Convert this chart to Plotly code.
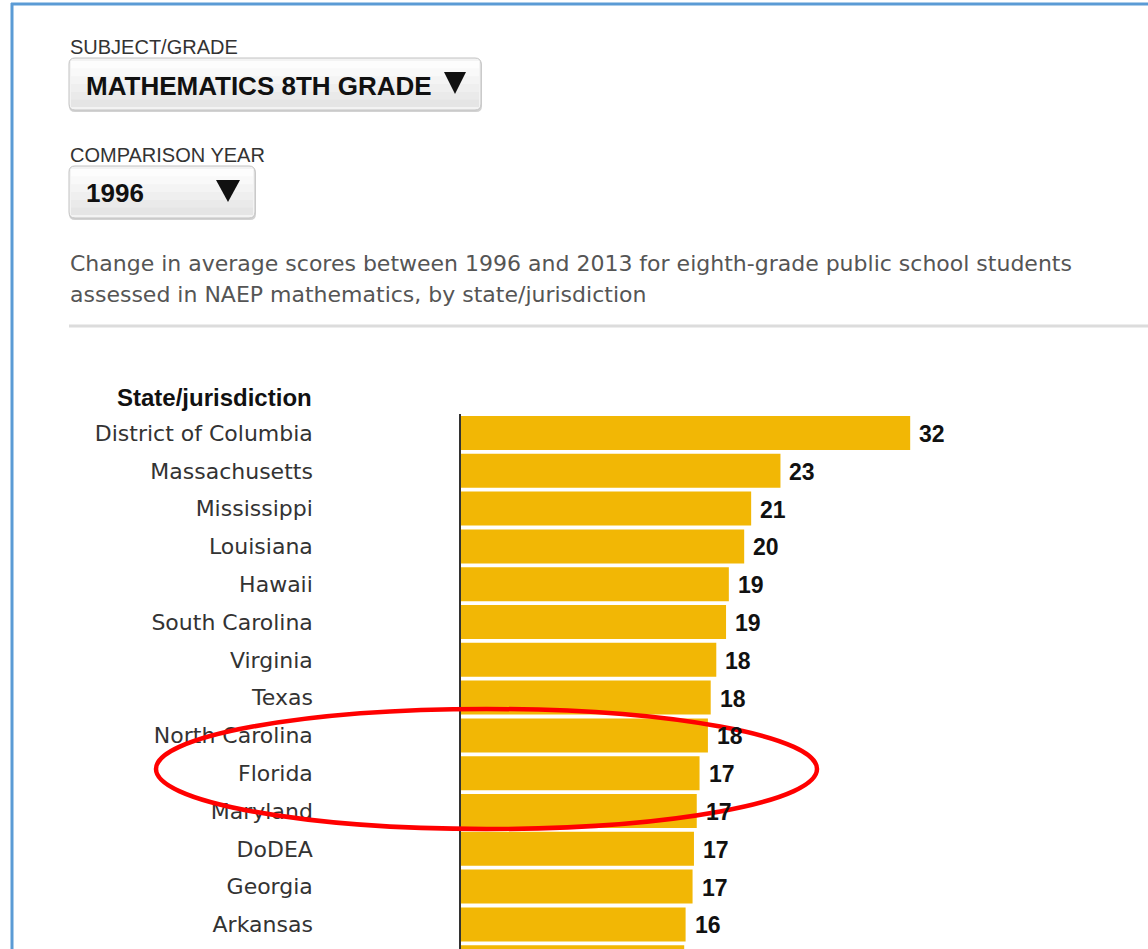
import plotly.graph_objects as go

W, H = 1148, 949

states = ["District of Columbia", "Massachusetts", "Mississippi", "Louisiana", "Hawaii",
          "South Carolina", "Virginia", "Texas", "North Carolina", "Florida", "Maryland",
          "DoDEA", "Georgia", "Arkansas", "Vermont"]
score_change = [32.2, 22.9, 20.8, 20.3, 19.2, 19.0, 18.3, 17.9, 17.7, 17.1, 16.9,
                16.7, 16.6, 16.1, 16.0]
value_labels = ["32", "23", "21", "20", "19", "19", "18", "18", "18", "17", "17",
                "17", "17", "16", "16"]

subject_label = "SUBJECT/GRADE"
subject_value = "MATHEMATICS 8TH GRADE"
year_label = "COMPARISON YEAR"
year_value = "1996"
description_lines = ["Change in average scores between 1996 and 2013 for eighth-grade public school students",
                     "assessed in NAEP mathematics, by state/jurisdiction"]
header = "State/jurisdiction"

BAR = "#f2b705"
SANS = "Liberation Sans, Arial, sans-serif"
WIDE = "DejaVu Sans, Verdana, sans-serif"


def px(x):
    return x / W


def py(y):
    return 1 - y / H


# plot area geometry (pixels)
axis_x = 461
px_per_unit = 13.95
top_band = 414.1
pitch = 37.8

fig = go.Figure()
fig.add_trace(go.Bar(
    x=score_change, y=states, orientation="h",
    marker=dict(color=BAR, line=dict(width=0)),
    hoverinfo="skip",
))

annotations = []
for s, v, t in zip(states, score_change, value_labels):
    annotations.append(dict(x=v, y=s, xref="x", yref="y", text="<b>%s</b>" % t,
                            showarrow=False, xanchor="left", xshift=7, yshift=-1,
                            font=dict(family=SANS, size=23, color="#111")))


def txt(x, y, text, size, color="#333", bold=False, anchor="left", family=SANS):
    annotations.append(dict(x=px(x), y=py(y), xref="paper", yref="paper",
                            text=("<b>%s</b>" % text) if bold else text,
                            showarrow=False, xanchor=anchor, yanchor="middle", align="left",
                            font=dict(family=family, size=size, color=color)))


txt(68, 47, subject_label, 20, "#333")
txt(84, 86, subject_value, 26, "#111", bold=True)
txt(68, 155, year_label, 20, "#333")
txt(84, 193, year_value, 26, "#111", bold=True)
txt(68, 264, description_lines[0], 22, "#555", family=WIDE)
txt(68, 294, description_lines[1], 22, "#555", family=WIDE)
txt(314, 397, header, 24, "#111", bold=True, anchor="right")


def rounded_rect(x0, y0, x1, y1, r):
    rx, ry = r / W, r / H
    X0, X1 = px(x0), px(x1)
    Y0, Y1 = py(y0), py(y1)  # Y0 top
    return (f"M {X0+rx},{Y0} L {X1-rx},{Y0} Q {X1},{Y0} {X1},{Y0-ry} "
            f"L {X1},{Y1+ry} Q {X1},{Y1} {X1-rx},{Y1} L {X0+rx},{Y1} "
            f"Q {X0},{Y1} {X0},{Y1+ry} L {X0},{Y0-ry} Q {X0},{Y0} {X0+rx},{Y0} Z")


def triangle(x0, x1, y0, y1):
    xm = (x0 + x1) / 2
    return f"M {px(x0)},{py(y0)} L {px(x1)},{py(y0)} L {px(xm)},{py(y1)} Z"


shapes = []
grads = ["#fdfdfd", "#f9f9f9", "#f4f4f4", "#efefef", "#eaeaea", "#e5e5e5"]
for (x0, y0, x1, y1), tri in [((69, 58, 481, 110), (444, 466, 72, 94)),
                              ((69, 166, 255, 218), (216, 240, 180, 202))]:
    shapes.append(dict(type="path", xref="paper", yref="paper", path=rounded_rect(x0, y0 + 1, x1 + 1, y1 + 2, 6),
                       fillcolor="#d2d2d2", line=dict(width=0), layer="below"))
    shapes.append(dict(type="path", xref="paper", yref="paper", path=rounded_rect(x0, y0, x1, y1, 6),
                       fillcolor="#f3f3f3", line=dict(color="#c2c2c2", width=1), layer="below"))
    n = len(grads)
    step = (y1 - y0 - 6) / n
    for i, c in enumerate(grads):
        shapes.append(dict(type="rect", xref="paper", yref="paper", x0=px(x0 + 2), x1=px(x1 - 2),
                           y0=py(y0 + 3 + (i + 1) * step), y1=py(y0 + 3 + i * step),
                           fillcolor=c, line=dict(width=0), layer="below"))
    shapes.append(dict(type="path", xref="paper", yref="paper", path=triangle(*tri),
                       fillcolor="#111", line=dict(width=0), layer="above"))

# separator line
shapes.append(dict(type="line", xref="paper", yref="paper", x0=px(69), x1=1, y0=py(326), y1=py(326),
                   line=dict(color="#dcdcdc", width=3)))
# blue frame
shapes.append(dict(type="line", xref="paper", yref="paper", x0=px(11), x1=1, y0=py(4), y1=py(4),
                   line=dict(color="#5b9bd5", width=3)))
shapes.append(dict(type="line", xref="paper", yref="paper", x0=px(12), x1=px(12), y0=py(3), y1=0,
                   line=dict(color="#5b9bd5", width=3)))
# red ellipse highlight
shapes.append(dict(type="circle", xref="paper", yref="paper", x0=px(156), x1=px(817),
                   y0=py(829), y1=py(709), line=dict(color="#ff0000", width=4.5), layer="above"))

fig.update_layout(
    width=W, height=H,
    margin=dict(l=0, r=0, t=0, b=0),
    paper_bgcolor="white", plot_bgcolor="white",
    showlegend=False,
    bargap=0.1,
    xaxis=dict(domain=[px(axis_x), 1], range=[0, (W - axis_x) / px_per_unit],
               visible=False, fixedrange=True),
    yaxis=dict(domain=[0, py(top_band)], type="category", categoryorder="array", categoryarray=states,
               range=[-0.5 + (H - top_band) / pitch, -0.5],
               showline=True, linecolor="#333", linewidth=1.5,
               ticks="outside", ticklen=142, tickcolor="rgba(0,0,0,0)",
               showgrid=False, zeroline=False,
               tickfont=dict(family=WIDE, size=22, color="#333"), fixedrange=True),
    annotations=annotations,
    shapes=shapes,
)

fig.write_html("out.html", config={"displayModeBar": False},
               post_script="document.body.style.margin='0';document.body.style.overflow='hidden';")
